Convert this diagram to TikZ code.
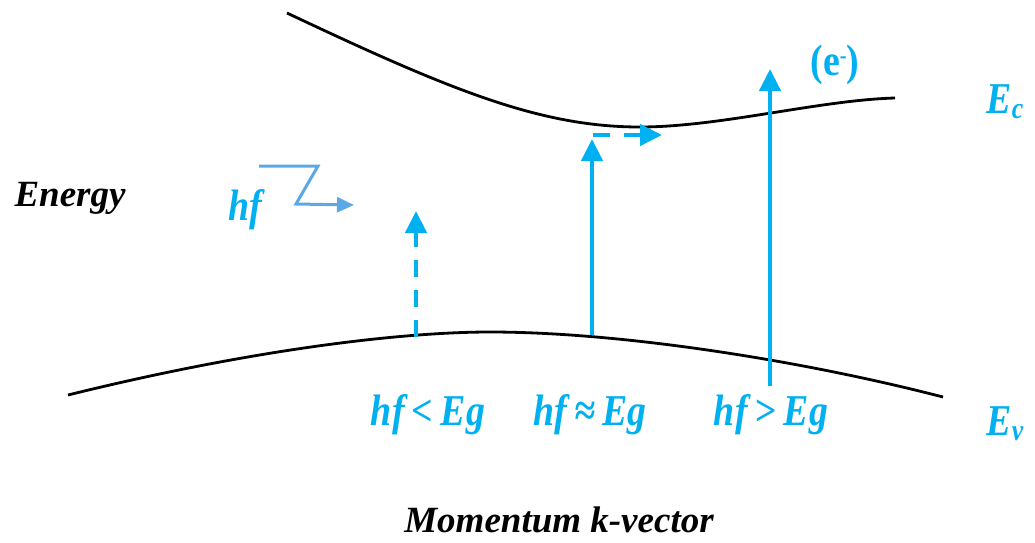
\documentclass[tikz,border=0pt]{standalone}
\usepackage{fontspec}
\setmainfont{Liberation Serif}
\newfontfamily\narrowserif[FakeStretch=0.86]{Liberation Serif}
\usetikzlibrary{arrows.meta}
\definecolor{cy}{RGB}{0,176,240}
\definecolor{lb}{RGB}{90,169,230}
\tikzset{
  band/.style={line width=2.8pt,black},
  photon/.style={line width=4.5pt,cy,-{Triangle[length=22pt,width=21pt]}},
  dashedphoton/.style={photon,dash pattern=on 17pt off 13pt},
  lbl/.style={text=cy,font=\narrowserif\fontsize{44}{48}\selectfont\bfseries\itshape,inner sep=0pt},
  axislbl/.style={text=black,font=\fontsize{37}{40}\selectfont\bfseries\itshape,inner sep=0pt}
}
\begin{document}
\begin{tikzpicture}[x=1pt,y=-1pt]
\useasboundingbox (0,0) rectangle (1035,542);
% bands
\draw[band] (287,13) .. controls (450,90) and (540,127) .. (640,127) .. controls (720,127) and (820,100) .. (895,98);
\draw[band] (68,395) .. controls (250,350) and (400,332) .. (490,332) .. controls (620,332) and (800,360) .. (943,397);
% arrow endpoints
\coordinate (a1b) at (416,337);
\coordinate (a1t) at (416,211);
\coordinate (a2b) at (592,335);
\coordinate (a2t) at (592,139);
\coordinate (h2s) at (593,135);
\coordinate (h2t) at (662,135);
\coordinate (a3b) at (770,386);
\coordinate (a3t) at (770,69);
\draw[dashedphoton] (a1b) -- (a1t);
\draw[photon] (a2b) -- (a2t);
\draw[dashedphoton,dash pattern=on 17pt off 14pt] (h2s) -- (h2t);
\draw[photon] (a3b) -- (a3t);
% photon symbol
\coordinate (z1) at (259,166);
\coordinate (z2) at (318,166);
\coordinate (z3) at (296,204);
\coordinate (z4) at (354,205);
\draw[lb,line width=3pt,-{Triangle[length=17pt,width=15pt]}] (z1) -- (z2) -- (z3) -- (z4);
\node[lbl,anchor=base] (hf) at (245,220) {hf};
% labels
\node[axislbl,anchor=base] (energy) at (70,206) {Energy};
\node[axislbl,anchor=base] (mom) at (559,532) {Momentum k-vector};
\node[lbl,anchor=base] (l1) at (428,425) {hf\,<\,Eg};
\node[lbl,anchor=base] (l2) at (590,425) {hf\,\char"2248\,Eg};
\node[lbl,anchor=base] (l3) at (771,425) {hf\,>\,Eg};
\node[lbl,anchor=base,font=\narrowserif\fontsize{44}{48}\selectfont\bfseries] (el) at (835,75) {(e\raisebox{0.55ex}{\fontsize{24}{24}\selectfont -})};
\node[lbl,anchor=base] (ec) at (1005,113) {E\raisebox{-0.25ex}{\fontsize{30}{30}\selectfont c}};
\node[lbl,anchor=base] (ev) at (1005,435) {E\raisebox{-0.25ex}{\fontsize{30}{30}\selectfont v}};
\end{tikzpicture}
\end{document}
